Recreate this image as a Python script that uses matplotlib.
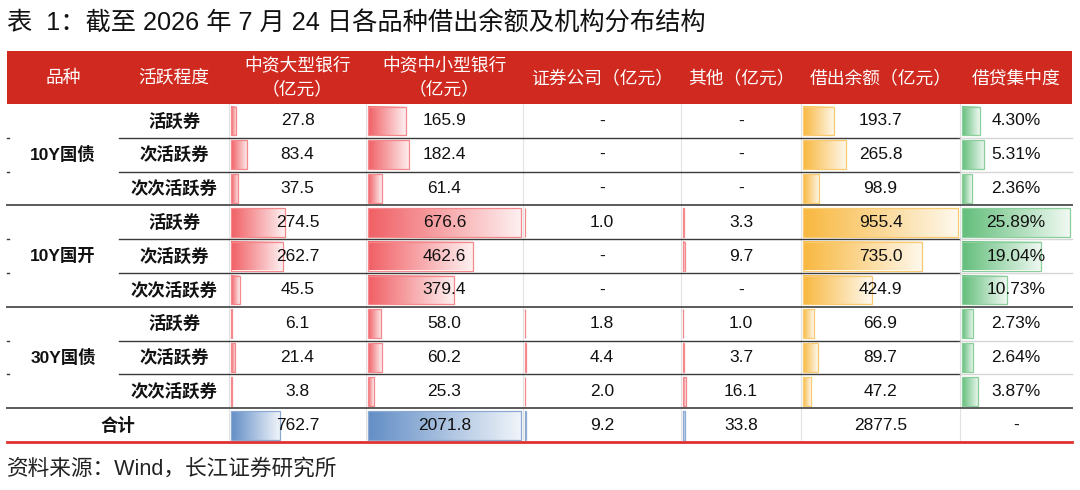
import numpy as np
import matplotlib.pyplot as plt
from matplotlib.patches import Rectangle
from matplotlib.colors import to_rgb

plt.rcParams['font.family'] = ['Liberation Sans', 'Noto Sans CJK SC', 'DejaVu Sans']

# ---- data ----
title = '表  1：截至 2026 年 7 月 24 日各品种借出余额及机构分布结构'
source = '资料来源：Wind，长江证券研究所'
headers = ['品种', '活跃程度', '中资大型银行\n（亿元）', '中资中小型银行\n（亿元）',
           '证券公司（亿元）', '其他（亿元）', '借出余额（亿元）', '借贷集中度']
groups = ['10Y国债', '10Y国开', '30Y国债']
levels = ['活跃券', '次活跃券', '次次活跃券']
large_bank = [27.8, 83.4, 37.5, 274.5, 262.7, 45.5, 6.1, 21.4, 3.8]
small_bank = [165.9, 182.4, 61.4, 676.6, 462.6, 379.4, 58.0, 60.2, 25.3]
broker = [None, None, None, 1.0, None, None, 1.8, 4.4, 2.0]
other = [None, None, None, 3.3, 9.7, None, 1.0, 3.7, 16.1]
balance = [193.7, 265.8, 98.9, 955.4, 735.0, 424.9, 66.9, 89.7, 47.2]
concentration = [4.30, 5.31, 2.36, 25.89, 19.04, 10.73, 2.73, 2.64, 3.87]
total_label = '合计'
total_inst = [762.7, 2071.8, 9.2, 33.8]
total_balance = 2877.5

# ---- layout (pixel coords) ----
col_x = [7, 119, 229, 366, 523, 681, 801, 960, 1072]
head_top, head_bot = 51, 104
row_h = 33.8
n_rows = len(large_bank) + 1
red = '#D02A20'
bar_red = '#F06065'
bar_orange = '#F8B840'
bar_green = '#63BE7B'
bar_blue = '#638EC6'

fig = plt.figure(figsize=(10.8, 4.9), dpi=100)
ax = fig.add_axes([0, 0, 1, 1])


def row_y(i):
    return head_bot + i * row_h


def draw_bar(col, i, frac, color):
    x0 = col_x[col] + 2
    w = (col_x[col + 1] - col_x[col] - 4) * frac
    y0, y1 = row_y(i) + 2.5, row_y(i + 1) - 2.5
    base = np.array(to_rgb(color))
    t = np.linspace(0, 1, 80)[:, None]
    grad = base * (1 - t * 0.9) + np.ones(3) * t * 0.9
    if w > 1:
        ax.imshow(grad[None, :, :], extent=(x0, x0 + w, y1, y0),
                  aspect='auto', interpolation='bilinear', zorder=1)
    edge = base * 0.75 + 0.25
    ax.add_patch(Rectangle((x0, y0), max(w, 0.3), y1 - y0, fill=False,
                           edgecolor=edge, lw=0.9, zorder=2))


def cell_text(col, i, s, weight='normal', span=1):
    xc = (col_x[col] + col_x[col + span]) / 2
    yc = (row_y(i) + row_y(i + 1)) / 2
    ax.text(xc, yc, s, ha='center', va='center', fontsize=12.5,
            fontweight=weight, color='#111111', zorder=3)


# header
ax.add_patch(Rectangle((col_x[0], head_top), col_x[-1] - col_x[0],
                       head_bot - head_top, color=red, lw=0, zorder=0))
for c, h in enumerate(headers):
    ax.text((col_x[c] + col_x[c + 1]) / 2, (head_top + head_bot) / 2 + 1, h,
            ha='center', va='center', fontsize=12.8, color='white',
            linespacing=1.45, zorder=3)

# faint vertical grid
for x in col_x[2:-1]:
    ax.plot([x, x], [head_bot, row_y(n_rows)], color='#e2e2e2', lw=0.8, zorder=0)

# body rows
inst_cols = [large_bank, small_bank, broker, other]
inst_max = max(v for col in inst_cols for v in col if v is not None)
for i in range(len(large_bank)):
    g, k = divmod(i, 3)
    if k == 1:
        cell_text(0, i, groups[g], weight='bold')
    cell_text(1, i, levels[k], weight='bold')
    for c, vals in enumerate(inst_cols):
        v = vals[i]
        if v is None:
            cell_text(c + 2, i, '-')
        else:
            draw_bar(c + 2, i, v / inst_max, bar_red)
            cell_text(c + 2, i, f'{v:.1f}')
    draw_bar(6, i, balance[i] / max(balance), bar_orange)
    cell_text(6, i, f'{balance[i]:.1f}')
    draw_bar(7, i, concentration[i] / max(concentration), bar_green)
    cell_text(7, i, f'{concentration[i]:.2f}%')

# total row
ti = n_rows - 1
cell_text(0, ti, total_label, weight='bold', span=2)
for c, v in enumerate(total_inst):
    draw_bar(c + 2, ti, v / max(total_inst), bar_blue)
    cell_text(c + 2, ti, f'{v:.1f}')
cell_text(6, ti, f'{total_balance:.1f}')
cell_text(7, ti, '-')

# horizontal lines
for i in range(1, n_rows):
    y = row_y(i)
    if i % 3 == 0:
        ax.plot([col_x[0], col_x[-1]], [y, y], color='#5a5a5a', lw=1.4, zorder=4)
    else:
        ax.plot([col_x[1], col_x[7]], [y, y], color='#3a3a3a', lw=1.0, zorder=4)
        ax.plot([col_x[7], col_x[-1]], [y, y], color='#d6d6d6', lw=1.0, zorder=4)
        ax.plot([col_x[0], col_x[0] + 1.5], [y, y], color='#3a3a3a', lw=1.0, zorder=4)
ax.plot([col_x[0], col_x[-1]], [row_y(n_rows)] * 2, color='#E03030', lw=2, zorder=4)

ax.text(7, 24, title, ha='left', va='center', fontsize=18.2, color='#111111')
ax.text(7, 469, source, ha='left', va='center', fontsize=15.6, color='#222222')

ax.set_xlim(0, 1080)
ax.set_ylim(490, 0)
ax.axis('off')
fig.savefig('out.png', dpi=100)
